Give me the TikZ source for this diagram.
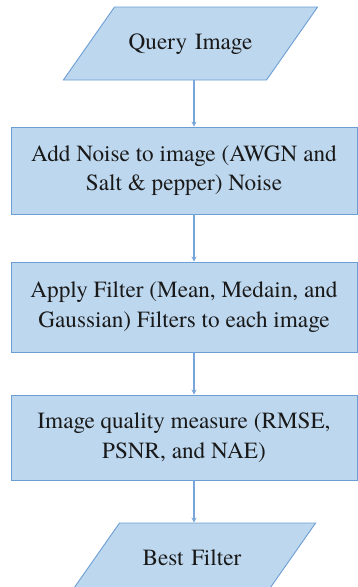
\documentclass[tikz,border=0pt]{standalone}
\usepackage{fontspec}
\newfontfamily\flowfont{texgyretermes}[Extension=.otf,UprightFont=*-regular]
\usetikzlibrary{shapes.geometric,arrows.meta}
\definecolor{boxfill}{RGB}{189,215,238}
\definecolor{boxline}{RGB}{108,158,212}
\definecolor{flowline}{RGB}{120,166,218}
\tikzset{
  procbox/.style={draw=boxline,fill=boxfill,line width=0.9pt,rectangle,
    minimum width=346pt,inner sep=0pt,align=center,text=black!90,
    font=\flowfont\fontsize{23.2}{29.5}\selectfont},
  iobox/.style={draw=boxline,fill=boxfill,line width=0.9pt,trapezium,
    trapezium left angle=55,trapezium right angle=125,
    align=center,inner xsep=0pt,inner ysep=26pt,text height=16pt,text depth=5pt,
    text=black!90,font=\flowfont\fontsize{23.2}{29.5}\selectfont},
  flow/.style={draw=flowline,line width=2pt,-{Stealth[length=5pt,width=5pt]}}
}
\begin{document}
\begin{tikzpicture}[x=1pt,y=1pt]
  \useasboundingbox (0,0) rectangle (358,-587);
  % input
  \node[iobox,text width=152pt] (query) at (190.5,-43.5) {Query Image};
  % processing steps
  \node[procbox,minimum height=87pt] (noise) at (184,-170.5)
    {Add Noise to image (AWGN and\\Salt \& pepper) Noise};
  \node[procbox,minimum height=90pt] (filter) at (184,-307)
    {Apply Filter (Mean, Medain, and\\Gaussian) Filters to each image};
  \node[procbox,minimum height=85pt] (measure) at (184,-437.5)
    {Image quality measure (RMSE,\\PSNR, and NAE)};
  % output
  \node[iobox,text width=145pt] (best) at (192,-559.5) {Best Filter};
  % arrows
  \coordinate (axis) at (194,0);
  \draw[flow] (query.south -| axis) -- (noise.north -| axis);
  \draw[flow] (noise.south -| axis) -- (filter.north -| axis);
  \draw[flow] (filter.south -| axis) -- (measure.north -| axis);
  \draw[flow] (measure.south -| axis) -- (best.north -| axis);
\end{tikzpicture}
\end{document}
